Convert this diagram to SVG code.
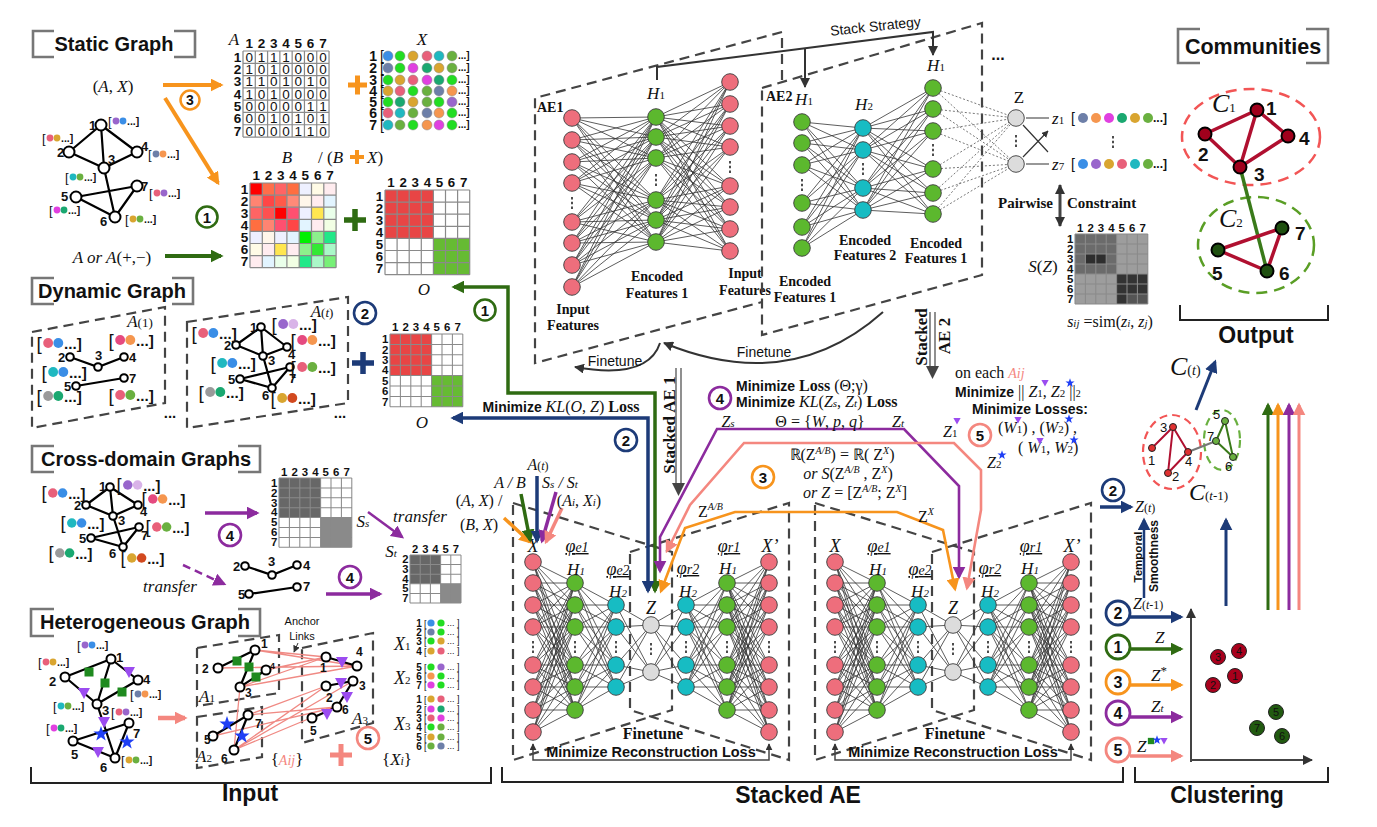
<svg xmlns="http://www.w3.org/2000/svg" width="1377" height="827" viewBox="0 0 1377 827">
<defs>
<style>
text{font-family:"Liberation Sans",Arial,sans-serif;fill:#111}
.s,.s text{font-family:"Liberation Serif","Times New Roman",serif}
.i{font-style:italic}
.b{font-weight:bold}
.hd{font-size:20px;font-weight:bold}
.big{font-size:23px;font-weight:bold}
.bx{fill:none;stroke:#777;stroke-width:2.6}
.brk{fill:none;stroke:#222;stroke-width:2}
.pk{fill:#ee6e7c;stroke:#3a3a3a;stroke-width:.9}
.gn{fill:#5cb82e;stroke:#3a3a3a;stroke-width:.9}
.cy{fill:#17bcc3;stroke:#3a3a3a;stroke-width:.9}
.gy{fill:#dcdcdc;stroke:#3a3a3a;stroke-width:.9}
.ms{fill:none;stroke:#333;stroke-width:.8;vector-effect:non-scaling-stroke}
.dt{fill:none;stroke:#555;stroke-width:.8;stroke-dasharray:2 2}
.dl{fill:none;stroke:#444;stroke-width:2.2;stroke-dasharray:10 6}
.gv{fill:#fff;stroke:#000;stroke-width:2}
.ed{fill:none;stroke:#000;stroke-width:2.2}
.grid{fill:none;stroke:#8a8a8a;stroke-width:1}
.mh{font-size:11px;font-weight:bold}
.mv{font-size:11px}
.lk{fill:none;stroke:#f08a84;stroke-width:1.3}
.vd{stroke:#222;stroke-width:1.6}
</style>
<marker id="mK" viewBox="0 0 10 10" refX="9" refY="5" markerWidth="10" markerHeight="10" markerUnits="userSpaceOnUse" orient="auto-start-reverse"><path d="M0 0L10 5L0 10z" fill="#333"/></marker>
<marker id="mKs" viewBox="0 0 10 10" refX="9" refY="5" markerWidth="7" markerHeight="7" markerUnits="userSpaceOnUse" orient="auto-start-reverse"><path d="M0 0L10 5L0 10z" fill="#333"/></marker>
<marker id="mN" viewBox="0 0 10 10" refX="8" refY="5" markerWidth="13" markerHeight="13" markerUnits="userSpaceOnUse" orient="auto-start-reverse"><path d="M0 0L10 5L0 10z" fill="#1d3b78"/></marker>
<marker id="mG" viewBox="0 0 10 10" refX="8" refY="5" markerWidth="13" markerHeight="13" markerUnits="userSpaceOnUse" orient="auto-start-reverse"><path d="M0 0L10 5L0 10z" fill="#2f6b12"/></marker>
<marker id="mO" viewBox="0 0 10 10" refX="8" refY="5" markerWidth="13" markerHeight="13" markerUnits="userSpaceOnUse" orient="auto-start-reverse"><path d="M0 0L10 5L0 10z" fill="#f7941d"/></marker>
<marker id="mP" viewBox="0 0 10 10" refX="8" refY="5" markerWidth="13" markerHeight="13" markerUnits="userSpaceOnUse" orient="auto-start-reverse"><path d="M0 0L10 5L0 10z" fill="#8c2b9e"/></marker>
<marker id="mR" viewBox="0 0 10 10" refX="8" refY="5" markerWidth="13" markerHeight="13" markerUnits="userSpaceOnUse" orient="auto-start-reverse"><path d="M0 0L10 5L0 10z" fill="#f4877f"/></marker>
<path id="g7" d="M0 0H70M0 10H70M0 20H70M0 30H70M0 40H70M0 50H70M0 60H70M0 70H70M0 0V70M10 0V70M20 0V70M30 0V70M40 0V70M50 0V70M60 0V70M70 0V70"/>
<path id="g5" d="M0 0H50M0 10H50M0 20H50M0 30H50M0 40H50M0 50H50M0 0V50M10 0V50M20 0V50M30 0V50M40 0V50M50 0V50"/>
<g id="h7"><text class="mh" x="5 15 25 35 45 55 65" y="-2.5" text-anchor="middle">1234567</text><text class="mh" x="-1.5 -1.5 -1.5 -1.5 -1.5 -1.5 -1.5" y="8.8 18.8 28.8 38.8 48.8 58.8 68.8" text-anchor="end">1234567</text></g>
<g id="fb"><text x="-1" y="4.5" font-size="13">[</text><text x="18" y="4" font-size="10.5" font-weight="bold">...]</text></g>
<circle id="np" r="8.3" class="pk"/>
<circle id="ng" r="8.3" class="gn"/>
<circle id="nc" r="8.3" class="cy"/>
<circle id="nz" r="8.3" class="gy"/>
<path id="vdot" class="vd" d="M0-6v2.5M0-1.2v2.5M0 3.6v2.5"/>
<path id="tri" d="M-6-5H6L0 6Z" fill="#9b4cf0"/>
<path id="star" d="M0-8L1.88-2.59L7.61-2.47L3.04 0.99L4.7 6.47L0 3.2L-4.7 6.47L-3.04 0.99L-7.61-2.47L-1.88-2.59Z" fill="#1f3ff5"/>
<rect id="sq" x="-4.5" y="-4.5" width="9" height="9" fill="#1f8a1f"/>
<path id="enc" class="ms" d="M533 562 575 583M533 562 575 605M533 562 575 627M533 562 575 665M533 562 575 687M533 562 575 710M533 583 575 583M533 583 575 605M533 583 575 627M533 583 575 665M533 583 575 687M533 583 575 710M533 605 575 583M533 605 575 605M533 605 575 627M533 605 575 665M533 605 575 687M533 605 575 710M533 627 575 583M533 627 575 605M533 627 575 627M533 627 575 665M533 627 575 687M533 627 575 710M533 665 575 583M533 665 575 605M533 665 575 627M533 665 575 665M533 665 575 687M533 665 575 710M533 687 575 583M533 687 575 605M533 687 575 627M533 687 575 665M533 687 575 687M533 687 575 710M533 710 575 583M533 710 575 605M533 710 575 627M533 710 575 665M533 710 575 687M533 710 575 710M533 732 575 583M533 732 575 605M533 732 575 627M533 732 575 665M533 732 575 687M533 732 575 710M575 583 616 605M575 583 616 627M575 583 616 665M575 583 616 687M575 605 616 605M575 605 616 627M575 605 616 665M575 605 616 687M575 627 616 605M575 627 616 627M575 627 616 665M575 627 616 687M575 665 616 605M575 665 616 627M575 665 616 665M575 665 616 687M575 687 616 605M575 687 616 627M575 687 616 665M575 687 616 687M575 710 616 605M575 710 616 627M575 710 616 665M575 710 616 687M616 605 651 625M616 605 651 672M616 627 651 625M616 627 651 672M616 665 651 625M616 665 651 672M616 687 651 625M616 687 651 672"/>
<g id="encN">
<use href="#np" x="533" y="562"/><use href="#np" x="533" y="583"/><use href="#np" x="533" y="605"/><use href="#np" x="533" y="627"/><use href="#np" x="533" y="665"/><use href="#np" x="533" y="687"/><use href="#np" x="533" y="710"/><use href="#np" x="533" y="732"/>
<use href="#ng" x="575" y="583"/><use href="#ng" x="575" y="605"/><use href="#ng" x="575" y="627"/><use href="#ng" x="575" y="665"/><use href="#ng" x="575" y="687"/><use href="#ng" x="575" y="710"/>
<use href="#nc" x="616" y="605"/><use href="#nc" x="616" y="627"/><use href="#nc" x="616" y="665"/><use href="#nc" x="616" y="687"/>
<use href="#vdot" x="533" y="647"/><use href="#vdot" x="575" y="647"/><use href="#vdot" x="616" y="647"/>
</g>
<g id="sae">
<path class="dl" d="M513 503L672 552V710L513 760Z"/>
<path class="dl" d="M630 552L789 503V760L630 710Z"/>
<use href="#enc"/>
<use href="#enc" transform="matrix(-1 0 0 1 1302 0)"/>
<use href="#encN"/>
<use href="#encN" transform="matrix(-1 0 0 1 1302 0)"/>
<use href="#nz" x="651" y="625"/><use href="#nz" x="651" y="672"/><use href="#vdot" x="651" y="649"/>
<text class="s i" x="533" y="552" text-anchor="middle" font-size="18">X</text>
<text class="s i" x="577" y="552" text-anchor="middle" font-size="18" text-decoration="underline">φ<tspan font-size="14">e1</tspan></text>
<text class="s i" x="576" y="575" text-anchor="middle" font-size="17">H<tspan font-size="11">1</tspan></text>
<text class="s i" x="618" y="575" text-anchor="middle" font-size="18" text-decoration="underline">φ<tspan font-size="14">e2</tspan></text>
<text class="s i" x="618" y="597" text-anchor="middle" font-size="17">H<tspan font-size="11">2</tspan></text>
<text class="s i" x="651" y="614" text-anchor="middle" font-size="18">Z</text>
<text class="s i" x="688" y="574" text-anchor="middle" font-size="18" text-decoration="underline">φ<tspan font-size="14">r2</tspan></text>
<text class="s i" x="688" y="597" text-anchor="middle" font-size="17">H<tspan font-size="11">2</tspan></text>
<text class="s i" x="729" y="552" text-anchor="middle" font-size="18" text-decoration="underline">φ<tspan font-size="14">r1</tspan></text>
<text class="s i" x="728" y="574" text-anchor="middle" font-size="17">H<tspan font-size="11">1</tspan></text>
<text class="s i" x="770" y="552" text-anchor="middle" font-size="18">X’</text>
<text class="s b" x="653" y="739" text-anchor="middle" font-size="16">Finetune</text>
<path d="M533 744V760H769V744" fill="none" stroke="#444" stroke-width="1.5" marker-start="url(#mKs)" marker-end="url(#mKs)"/>
<text class="b" x="651" y="757" text-anchor="middle" font-size="14.5">Minimize Reconstruction Loss</text>
</g>
</defs>
<rect width="1377" height="827" fill="#fff"/>

<!-- ===== Section headings ===== -->
<g id="head-static"><path class="bx" d="M54 31H33V57H54M174 31H195V57H174"/><text class="hd" x="114" y="51" text-anchor="middle">Static Graph</text></g>
<g id="head-dynamic"><path class="bx" d="M54 278H32V304H54M172 278H193V304H172"/><text class="hd" x="112" y="298" text-anchor="middle">Dynamic Graph</text></g>
<g id="head-cross"><path class="bx" d="M54 446H32V472H54M238 446H260V472H238"/><text class="hd" x="146" y="466" text-anchor="middle">Cross-domain Graphs</text></g>
<g id="head-hetero"><path class="bx" d="M54 609H31V636H54M238 609H260V636H238"/><text class="hd" x="145" y="629" text-anchor="middle">Heterogeneous Graph</text></g>
<g id="head-comm"><path class="bx" d="M1200 29H1178V63H1200M1306 29H1328V63H1306"/><text x="1253" y="54" text-anchor="middle" font-size="21.5" font-weight="bold">Communities</text></g>

<!-- ===== Static graph ===== -->
<g id="static-graph">
<text class="s" x="113" y="92" text-anchor="middle" font-size="17">(<tspan class="i">A</tspan>, <tspan class="i">X</tspan>)</text>
<path class="ed" d="M101 125L69 152M101 125L104 168M101 125L137 152M69 152L104 168M104 168L137 152M104 168L115 217M76 197L115 217M76 197L137 186M115 217L137 186"/>
<g class="gv"><circle cx="101" cy="125" r="5.5"/><circle cx="69" cy="152" r="5.5"/><circle cx="104" cy="168" r="5.5"/><circle cx="137" cy="152" r="5.5"/><circle cx="76" cy="197" r="5.5"/><circle cx="115" cy="217" r="5.5"/><circle cx="137" cy="186" r="5.5"/></g>
<g font-size="13" font-weight="bold"><text x="89" y="130">1</text><text x="57" y="157">2</text><text x="108" y="164">3</text><text x="141" y="151">4</text><text x="61" y="201">5</text><text x="100" y="226">6</text><text x="141" y="191">7</text></g>
<g transform="translate(109 121)"><use href="#fb"/><circle cx="7" r="3.4" fill="#9966cc"/><circle cx="14" r="3.4" fill="#3a8ee6"/></g>
<g transform="translate(43 138)"><use href="#fb"/><circle cx="7" r="3.4" fill="#e8607a"/><circle cx="14" r="3.4" fill="#d9a530"/></g>
<g transform="translate(149 154)"><use href="#fb"/><circle cx="7" r="3.4" fill="#6d7fa8"/><circle cx="14" r="3.4" fill="#f5964f"/></g>
<g transform="translate(66 177)"><use href="#fb"/><circle cx="7" r="3.4" fill="#1fb8c0"/><circle cx="14" r="3.4" fill="#6ab040"/></g>
<g transform="translate(150 193)"><use href="#fb"/><circle cx="7" r="3.4" fill="#e8607a"/><circle cx="14" r="3.4" fill="#9966cc"/></g>
<g transform="translate(50 210)"><use href="#fb"/><circle cx="7" r="3.4" fill="#e040e0"/><circle cx="14" r="3.4" fill="#1aa870"/></g>
<g transform="translate(126 219)"><use href="#fb"/><circle cx="7" r="3.4" fill="#d9a530"/><circle cx="14" r="3.4" fill="#6ab040"/></g>
<text class="s" x="112" y="263" text-anchor="middle" font-size="17"><tspan class="i">A or A</tspan>(+,−)</text>
<path d="M163 85H221" stroke="#f7941d" stroke-width="4" marker-end="url(#mO)"/>
<path d="M165 98L218 183" stroke="#f7941d" stroke-width="4" marker-end="url(#mO)"/>
<circle cx="190" cy="100" r="9.5" fill="#fff" stroke="#f7941d" stroke-width="2.5"/><text x="190" y="105" text-anchor="middle" font-size="14" font-weight="bold" fill="#f7941d">3</text>
<path d="M165 256H221" stroke="#2f6b12" stroke-width="4" marker-end="url(#mG)"/>
<circle cx="207" cy="217" r="10.5" fill="#fff" stroke="#2f6b12" stroke-width="2.6"/><text x="207" y="222.5" text-anchor="middle" font-size="15" font-weight="bold" fill="#2f6b12">1</text>
</g>

<!-- matrix A -->
<g id="matrix-A">
<text class="s i" x="234" y="45" text-anchor="middle" font-size="17">A</text>
<g transform="translate(243 51) scale(1.229)">
<use href="#h7"/>
<use href="#g7" class="grid" stroke-width="1.2"/>
<g class="mv" text-anchor="middle">
<text x="5 15 25 35 45 55 65" y="8.8">0111000</text>
<text x="5 15 25 35 45 55 65" y="18.8">1010000</text>
<text x="5 15 25 35 45 55 65" y="28.8">1101010</text>
<text x="5 15 25 35 45 55 65" y="38.8">1010000</text>
<text x="5 15 25 35 45 55 65" y="48.8">0000011</text>
<text x="5 15 25 35 45 55 65" y="58.8">0010101</text>
<text x="5 15 25 35 45 55 65" y="68.8">0000110</text>
</g>
</g>
<path d="M348 85H367M357.5 75.5V94.5" stroke="#f7941d" stroke-width="5"/>
</g>

<!-- matrix X -->
<g id="matrix-X">
<text class="s i" x="422" y="45" text-anchor="middle" font-size="17">X</text>
<text font-size="14" font-weight="bold" text-anchor="end" x="377 377 377 377 377 377 377" y="61 73 85 96 107 118 130">1234567</text>
<text font-size="14" x="380 380 380 380 380 380 380" y="61 73 85 96 107 118 130">[[[[[[[</text>
<text font-size="10" font-weight="bold" x="458" y="59">...]<tspan x="458" y="71">...]</tspan><tspan x="458" y="83">...]</tspan><tspan x="458" y="94">...]</tspan><tspan x="458" y="105">...]</tspan><tspan x="458" y="116">...]</tspan><tspan x="458" y="128">...]</tspan></text>
<g stroke="#888" stroke-width=".5">
<circle cx="388" cy="56" r="5" fill="#3a8ee6"/><circle cx="400" cy="56" r="5" fill="#22dd22"/><circle cx="413" cy="56" r="5" fill="#d9a530"/><circle cx="427" cy="56" r="5" fill="#e8607a"/><circle cx="439" cy="56" r="5" fill="#1fb8c0"/><circle cx="452" cy="56" r="5" fill="#6ab040"/>
<circle cx="388" cy="68" r="5" fill="#6d7fa8"/><circle cx="400" cy="68" r="5" fill="#22dd22"/><circle cx="413" cy="68" r="5" fill="#e040e0"/><circle cx="427" cy="68" r="5" fill="#1aa870"/><circle cx="439" cy="68" r="5" fill="#d9a530"/><circle cx="452" cy="68" r="5" fill="#6ab040"/>
<circle cx="388" cy="80" r="5" fill="#22dd22"/><circle cx="400" cy="80" r="5" fill="#d9a530"/><circle cx="413" cy="80" r="5" fill="#e8607a"/><circle cx="427" cy="80" r="5" fill="#e040e0"/><circle cx="439" cy="80" r="5" fill="#1aa870"/><circle cx="452" cy="80" r="5" fill="#22dd22"/>
<circle cx="388" cy="91" r="5" fill="#d9a530"/><circle cx="400" cy="91" r="5" fill="#e8607a"/><circle cx="413" cy="91" r="5" fill="#22dd22"/><circle cx="427" cy="91" r="5" fill="#6ab040"/><circle cx="439" cy="91" r="5" fill="#6d7fa8"/><circle cx="452" cy="91" r="5" fill="#f5964f"/>
<circle cx="388" cy="102" r="5" fill="#22dd22"/><circle cx="400" cy="102" r="5" fill="#1aa870"/><circle cx="413" cy="102" r="5" fill="#d9a530"/><circle cx="427" cy="102" r="5" fill="#6ab040"/><circle cx="439" cy="102" r="5" fill="#22dd22"/><circle cx="452" cy="102" r="5" fill="#9966cc"/>
<circle cx="388" cy="113" r="5" fill="#e8607a"/><circle cx="400" cy="113" r="5" fill="#1fb8c0"/><circle cx="413" cy="113" r="5" fill="#6ab040"/><circle cx="427" cy="113" r="5" fill="#6d7fa8"/><circle cx="439" cy="113" r="5" fill="#f5964f"/><circle cx="452" cy="113" r="5" fill="#22dd22"/>
<circle cx="388" cy="125" r="5" fill="#1fb8c0"/><circle cx="400" cy="125" r="5" fill="#6ab040"/><circle cx="413" cy="125" r="5" fill="#22dd22"/><circle cx="427" cy="125" r="5" fill="#f5964f"/><circle cx="439" cy="125" r="5" fill="#e040e0"/><circle cx="452" cy="125" r="5" fill="#22dd22"/>
</g>
</g>

<!-- matrix B -->
<g id="matrix-B">
<text class="s i" x="287" y="163" text-anchor="middle" font-size="17">B</text>
<text class="s" x="318" y="163" font-size="17">/ (<tspan class="i">B</tspan></text>
<path d="M350 157H364M357 150V164" stroke="#f7941d" stroke-width="4"/>
<text class="s i" x="367" y="163" font-size="17">X<tspan font-style="normal">)</tspan></text>
<g transform="translate(250 183) scale(1.23 1.21)">
<use href="#h7"/>
<rect x="0" y="0" width="10" height="10" fill="#ff0000"/><rect x="10" y="0" width="10" height="10" fill="#ff6e4a"/><rect x="20" y="0" width="10" height="10" fill="#ff6464"/><rect x="30" y="0" width="10" height="10" fill="#ff6e40"/><rect x="40" y="0" width="10" height="10" fill="#eef0ff"/><rect x="50" y="0" width="10" height="10" fill="#fffbe6"/><rect x="60" y="0" width="10" height="10" fill="#ffecef"/>
<rect x="0" y="10" width="10" height="10" fill="#ff8472"/><rect x="10" y="10" width="10" height="10" fill="#ff4646"/><rect x="20" y="10" width="10" height="10" fill="#ff5a4a"/><rect x="30" y="10" width="10" height="10" fill="#ff8a78"/><rect x="40" y="10" width="10" height="10" fill="#fff6ea"/><rect x="50" y="10" width="10" height="10" fill="#ffecef"/><rect x="60" y="10" width="10" height="10" fill="#e2f4ff"/>
<rect x="0" y="20" width="10" height="10" fill="#ff6464"/><rect x="10" y="20" width="10" height="10" fill="#ff5050"/><rect x="20" y="20" width="10" height="10" fill="#ff0000"/><rect x="30" y="20" width="10" height="10" fill="#ff5070"/><rect x="40" y="20" width="10" height="10" fill="#eef0ff"/><rect x="50" y="20" width="10" height="10" fill="#ffe650"/><rect x="60" y="20" width="10" height="10" fill="#eaffea"/>
<rect x="0" y="30" width="10" height="10" fill="#ff6e40"/><rect x="10" y="30" width="10" height="10" fill="#ff8472"/><rect x="20" y="30" width="10" height="10" fill="#ff5070"/><rect x="30" y="30" width="10" height="10" fill="#ff4646"/><rect x="40" y="30" width="10" height="10" fill="#e2f4ff"/><rect x="50" y="30" width="10" height="10" fill="#ffecef"/><rect x="60" y="30" width="10" height="10" fill="#f2ffe4"/>
<rect x="0" y="40" width="10" height="10" fill="#eef0ff"/><rect x="10" y="40" width="10" height="10" fill="#fff6ea"/><rect x="20" y="40" width="10" height="10" fill="#eef0ff"/><rect x="30" y="40" width="10" height="10" fill="#e2f4ff"/><rect x="40" y="40" width="10" height="10" fill="#00f000"/><rect x="50" y="40" width="10" height="10" fill="#8cf08c"/><rect x="60" y="40" width="10" height="10" fill="#22e888"/>
<rect x="0" y="50" width="10" height="10" fill="#fffbe6"/><rect x="10" y="50" width="10" height="10" fill="#ffecef"/><rect x="20" y="50" width="10" height="10" fill="#ffe650"/><rect x="30" y="50" width="10" height="10" fill="#ffecef"/><rect x="40" y="50" width="10" height="10" fill="#8cf08c"/><rect x="50" y="50" width="10" height="10" fill="#33e833"/><rect x="60" y="50" width="10" height="10" fill="#aaf8c8"/>
<rect x="0" y="60" width="10" height="10" fill="#ffecef"/><rect x="10" y="60" width="10" height="10" fill="#e2f4ff"/><rect x="20" y="60" width="10" height="10" fill="#eaffea"/><rect x="30" y="60" width="10" height="10" fill="#f2ffe4"/><rect x="40" y="60" width="10" height="10" fill="#22e888"/><rect x="50" y="60" width="10" height="10" fill="#aaf8c8"/><rect x="60" y="60" width="10" height="10" fill="#77f077"/>
<use href="#g7" class="grid" stroke="#aaa"/>
</g>
<path d="M344 220H366M355 209V231" stroke="#2f6b12" stroke-width="5.5"/>
</g>

<!-- matrix O (static) -->
<g id="matrix-O1">
<g transform="translate(385 190) scale(1.21)">
<use href="#h7"/>
<rect width="40" height="40" fill="#e84545"/><rect x="40" y="40" width="30" height="30" fill="#66bb33"/>
<use href="#g7" class="grid"/>
</g>
<text class="s i" x="424" y="295" text-anchor="middle" font-size="17">O</text>
</g>

<!-- ===== Dynamic graph ===== -->
<g id="dyn-panel1">
<path class="dl" d="M32 332L165 307V403L32 428Z"/>
<text class="s" x="140" y="327" text-anchor="middle" font-size="17"><tspan class="i">A</tspan><tspan font-size="13">(1)</tspan></text>
<path class="ed" d="M70 357L98 367L124 357M76 386L124 378"/>
<g class="gv" stroke-width="1.8"><circle cx="70" cy="357" r="3.8"/><circle cx="98" cy="367" r="3.8"/><circle cx="124" cy="357" r="3.8"/><circle cx="76" cy="386" r="3.8"/><circle cx="124" cy="378" r="3.8"/></g>
<g font-size="13" font-weight="bold"><text x="58" y="362">2</text><text x="95" y="360">3</text><text x="129" y="362">4</text><text x="64" y="391">5</text><text x="129" y="383">7</text></g>
<g transform="translate(38 343) scale(1.45)"><use href="#fb"/><circle cx="7" r="3.4" fill="#e8607a"/><circle cx="14" r="3.4" fill="#3a8ee6"/></g>
<g transform="translate(110 340) scale(1.45)"><use href="#fb"/><circle cx="7" r="3.4" fill="#e54a80"/><circle cx="14" r="3.4" fill="#f5964f"/></g>
<g transform="translate(43 372) scale(1.45)"><use href="#fb"/><circle cx="7" r="3.4" fill="#1fb8c0"/><circle cx="14" r="3.4" fill="#3a8ee6"/></g>
<g transform="translate(38 396) scale(1.45)"><use href="#fb"/><circle cx="7" r="3.4" fill="#9a9a9a"/><circle cx="14" r="3.4" fill="#1aa870"/></g>
<g transform="translate(110 395) scale(1.45)"><use href="#fb"/><circle cx="7" r="3.4" fill="#e8607a"/><circle cx="14" r="3.4" fill="#6ab040"/></g>
<text x="170" y="418" text-anchor="middle" font-size="15" font-weight="bold">...</text>
</g>
<g id="dyn-panel2">
<path class="dl" d="M187 322L348 297V403L187 428Z"/>
<text class="s" x="322" y="317" text-anchor="middle" font-size="17"><tspan class="i">A</tspan><tspan font-size="13">(<tspan class="i">t</tspan>)</tspan></text>
<path class="ed" d="M261 327L236 345M261 327L263 356M261 327L287 347M236 345L263 356M263 356L287 347M263 356L272 388M240 379L272 388M240 379L290 367M272 388L290 367"/>
<g class="gv" stroke-width="1.8"><circle cx="261" cy="327" r="3.8"/><circle cx="236" cy="345" r="3.8"/><circle cx="263" cy="356" r="3.8"/><circle cx="287" cy="347" r="3.8"/><circle cx="240" cy="379" r="3.8"/><circle cx="272" cy="388" r="3.8"/><circle cx="290" cy="367" r="3.8"/></g>
<g font-size="13" font-weight="bold"><text x="250" y="332">1</text><text x="224" y="350">2</text><text x="268" y="365">3</text><text x="288" y="359">4</text><text x="228" y="384">5</text><text x="262" y="400">6</text><text x="289" y="383">7</text></g>
<g transform="translate(193 333) scale(1.45)"><use href="#fb"/><circle cx="7" r="3.4" fill="#e8607a"/><circle cx="14" r="3.4" fill="#3a8ee6"/></g>
<g transform="translate(273 324) scale(1.45)"><use href="#fb"/><circle cx="7" r="3.4" fill="#9966cc"/><circle cx="14" r="3.4" fill="#d9b3e8"/></g>
<g transform="translate(292 340) scale(1.45)"><use href="#fb"/><circle cx="7" r="3.4" fill="#e54a80"/><circle cx="14" r="3.4" fill="#f5964f"/></g>
<g transform="translate(212 363) scale(1.45)"><use href="#fb"/><circle cx="7" r="3.4" fill="#1fb8c0"/><circle cx="14" r="3.4" fill="#3a8ee6"/></g>
<g transform="translate(292 367) scale(1.45)"><use href="#fb"/><circle cx="7" r="3.4" fill="#e8607a"/><circle cx="14" r="3.4" fill="#6ab040"/></g>
<g transform="translate(200 392) scale(1.45)"><use href="#fb"/><circle cx="7" r="3.4" fill="#9a9a9a"/><circle cx="14" r="3.4" fill="#1aa870"/></g>
<g transform="translate(272 398) scale(1.45)"><use href="#fb"/><circle cx="7" r="3.4" fill="#d9a530"/><circle cx="14" r="3.4" fill="#d2491f"/></g>
<text x="340" y="418" text-anchor="middle" font-size="15" font-weight="bold">...</text>
</g>
<g id="dyn-O">
<circle cx="365" cy="313" r="11" fill="#fff" stroke="#1d3b78" stroke-width="2.6"/><text x="365" y="318.5" text-anchor="middle" font-size="15" font-weight="bold" fill="#1d3b78">2</text>
<path d="M352 363H374M363 352V374" stroke="#1d3b78" stroke-width="5.5"/>
<g transform="translate(390 334) scale(1.04)">
<use href="#h7"/>
<rect width="40" height="40" fill="#e84545"/><rect x="40" y="40" width="30" height="30" fill="#66bb33"/>
<use href="#g7" class="grid"/>
</g>
<text class="s i" x="422" y="428" text-anchor="middle" font-size="17">O</text>
</g>

<!-- ===== Cross-domain ===== -->
<g id="cross-graph">
<path class="ed" d="M110 487L86 505M110 487L113 516M110 487L138 505M86 505L113 516M113 516L138 505M113 516L123 547M91 538L123 547M91 538L139 527M123 547L139 527"/>
<g class="gv" stroke-width="1.8"><circle cx="110" cy="487" r="3.8"/><circle cx="86" cy="505" r="3.8"/><circle cx="113" cy="516" r="3.8"/><circle cx="138" cy="505" r="3.8"/><circle cx="91" cy="538" r="3.8"/><circle cx="123" cy="547" r="3.8"/><circle cx="139" cy="527" r="3.8"/></g>
<g font-size="13" font-weight="bold"><text x="99" y="491">1</text><text x="74" y="510">2</text><text x="118" y="525">3</text><text x="140" y="516">4</text><text x="79" y="543">5</text><text x="109" y="558">6</text><text x="141" y="540">7</text></g>
<g transform="translate(43 493) scale(1.4)"><use href="#fb"/><circle cx="7" r="3.4" fill="#e8607a"/><circle cx="14" r="3.4" fill="#3a8ee6"/></g>
<g transform="translate(118 485) scale(1.4)"><use href="#fb"/><circle cx="7" r="3.4" fill="#9966cc"/><circle cx="14" r="3.4" fill="#d9b3e8"/></g>
<g transform="translate(143 499) scale(1.4)"><use href="#fb"/><circle cx="7" r="3.4" fill="#e54a80"/><circle cx="14" r="3.4" fill="#f5964f"/></g>
<g transform="translate(62 523) scale(1.4)"><use href="#fb"/><circle cx="7" r="3.4" fill="#1fb8c0"/><circle cx="14" r="3.4" fill="#3a8ee6"/></g>
<g transform="translate(147 527) scale(1.4)"><use href="#fb"/><circle cx="7" r="3.4" fill="#e8607a"/><circle cx="14" r="3.4" fill="#6ab040"/></g>
<g transform="translate(50 553) scale(1.4)"><use href="#fb"/><circle cx="7" r="3.4" fill="#9a9a9a"/><circle cx="14" r="3.4" fill="#1aa870"/></g>
<g transform="translate(122 558) scale(1.4)"><use href="#fb"/><circle cx="7" r="3.4" fill="#d9a530"/><circle cx="14" r="3.4" fill="#d2491f"/></g>
<path d="M205 513H257" stroke="#8c2b9e" stroke-width="3.5" marker-end="url(#mP)"/>
<circle cx="230" cy="535" r="11" fill="#fff" stroke="#8c2b9e" stroke-width="2.6"/><text x="230" y="540.5" text-anchor="middle" font-size="15" font-weight="bold" fill="#8c2b9e">4</text>
<path d="M183 565L224 584" stroke="#8c2b9e" stroke-width="2.5" stroke-dasharray="8 5" marker-end="url(#mP)"/>
<text class="s i" x="170" y="592" text-anchor="middle" font-size="17">transfer</text>
</g>
<g id="matrix-Ss">
<g transform="translate(279 478) scale(1.04 .99)">
<use href="#h7"/>
<rect width="40" height="40" fill="#676767"/><rect x="40" y="40" width="30" height="30" fill="#8a8a8a"/>
<use href="#g7" class="grid" stroke="#999"/>
</g>
<text class="s i" x="363" y="527" text-anchor="middle" font-size="17">S<tspan font-size="11">s</tspan></text>
<path d="M368 512L402 537" stroke="#8c2b9e" stroke-width="2.5" marker-end="url(#mP)"/>
<text class="s i" x="420" y="522" text-anchor="middle" font-size="17">transfer</text>
</g>
<g id="small-graph">
<path class="ed" d="M245 566L272 575L297 565M249 594L297 587"/>
<g class="gv" stroke-width="1.8"><circle cx="245" cy="566" r="3.8"/><circle cx="272" cy="575" r="3.8"/><circle cx="297" cy="565" r="3.8"/><circle cx="249" cy="594" r="3.8"/><circle cx="297" cy="587" r="3.8"/></g>
<g font-size="13" font-weight="bold"><text x="233" y="571">2</text><text x="268" y="566">3</text><text x="303" y="570">4</text><text x="238" y="599">5</text><text x="303" y="591">7</text></g>
<path d="M326 594H380" stroke="#8c2b9e" stroke-width="3.5" marker-end="url(#mP)"/>
<circle cx="350" cy="577" r="11" fill="#fff" stroke="#8c2b9e" stroke-width="2.6"/><text x="350" y="582.5" text-anchor="middle" font-size="15" font-weight="bold" fill="#8c2b9e">4</text>
</g>
<g id="matrix-St">
<text class="s i" x="391" y="557" text-anchor="middle" font-size="17">S<tspan font-size="11">t</tspan></text>
<g transform="translate(410 555) scale(1.02 .96)">
<rect width="30" height="30" fill="#676767"/><rect x="30" y="30" width="20" height="20" fill="#8a8a8a"/>
<use href="#g5" class="grid" stroke="#999"/>
<text class="mh" x="5 15 25 35 45" y="-2.5" text-anchor="middle">23457</text>
<text class="mh" x="-1.5 -1.5 -1.5 -1.5 -1.5" y="8.8 18.8 28.8 38.8 48.8" text-anchor="end">23457</text>
</g>
</g>

<!-- ===== Heterogeneous ===== -->
<g id="hetero-graph">
<path class="ed" d="M111 659L65 677M111 659L97 704M111 659L138 680M65 677L97 704M97 704L138 680M97 704L115 758M73 741L115 758M73 741L129 723M115 758L129 723"/>
<g class="gv" stroke-width="2"><circle cx="111" cy="659" r="4.5"/><circle cx="65" cy="677" r="4.5"/><circle cx="97" cy="704" r="4.5"/><circle cx="138" cy="680" r="4.5"/><circle cx="73" cy="741" r="4.5"/><circle cx="115" cy="758" r="4.5"/><circle cx="129" cy="723" r="4.5"/></g>
<use href="#sq" x="89" y="672"/><use href="#sq" x="105" y="683"/><use href="#sq" x="122" y="692"/>
<use href="#tri" x="129" y="672"/><use href="#tri" x="84" y="693"/><use href="#tri" x="104" y="722"/><use href="#tri" x="98" y="752"/>
<use href="#star" x="101" y="734"/><use href="#star" x="127" y="742"/>
<g font-size="13" font-weight="bold"><text x="116" y="662">1</text><text x="49" y="686">2</text><text x="102" y="715">3</text><text x="143" y="684">4</text><text x="71" y="759">5</text><text x="100" y="772">6</text><text x="133" y="738">7</text></g>
<g transform="translate(78 645)"><use href="#fb"/><circle cx="7" r="3.4" fill="#9966cc"/><circle cx="14" r="3.4" fill="#3a8ee6"/></g>
<g transform="translate(39 662)"><use href="#fb"/><circle cx="7" r="3.4" fill="#e8607a"/><circle cx="14" r="3.4" fill="#d9a530"/></g>
<g transform="translate(131 694)"><use href="#fb"/><circle cx="7" r="3.4" fill="#6d7fa8"/><circle cx="14" r="3.4" fill="#f5964f"/></g>
<g transform="translate(54 706)"><use href="#fb"/><circle cx="7" r="3.4" fill="#1fb8c0"/><circle cx="14" r="3.4" fill="#6ab040"/></g>
<g transform="translate(112 712)"><use href="#fb"/><circle cx="7" r="3.4" fill="#e8607a"/><circle cx="14" r="3.4" fill="#9966cc"/></g>
<g transform="translate(47 728)"><use href="#fb"/><circle cx="7" r="3.4" fill="#e040e0"/><circle cx="14" r="3.4" fill="#1aa870"/></g>
<g transform="translate(122 760)"><use href="#fb"/><circle cx="7" r="3.4" fill="#d9a530"/><circle cx="14" r="3.4" fill="#6ab040"/></g>
<path d="M158 718H185" stroke="#f4877f" stroke-width="4.5" marker-end="url(#mR)"/>
</g>
<g id="hetero-layers">
<path class="dl" d="M197 648L279 635V693L197 706Z"/>
<path class="dl" d="M197 717L262 707V757L197 768Z"/>
<path class="dl" d="M302 648L373 633V723L302 743Z"/>
<path class="lk" d="M255 650L357 666M218 668L357 666M255 650L326 657M266 670L326 657M240 687L357 666M240 687L326 657M240 687L234 750M248 715L337 707M248 715L326 686M213 736L337 707M234 750L326 686M234 750L353 681M234 750L337 707"/>
<path class="ed" d="M218 668L255 650L240 687L266 670M213 736L248 715L234 750M326 657L357 666M326 686L353 681L337 707L312 718"/>
<g class="gv" stroke-width="2"><circle cx="255" cy="650" r="4.5"/><circle cx="218" cy="668" r="4.5"/><circle cx="266" cy="670" r="4.5"/><circle cx="240" cy="687" r="4.5"/><circle cx="248" cy="715" r="4.5"/><circle cx="213" cy="736" r="4.5"/><circle cx="234" cy="750" r="4.5"/><circle cx="326" cy="657" r="4.5"/><circle cx="357" cy="666" r="4.5"/><circle cx="326" cy="686" r="4.5"/><circle cx="353" cy="681" r="4.5"/><circle cx="337" cy="707" r="4.5"/><circle cx="312" cy="718" r="4.5"/></g>
<use href="#sq" x="237" y="661"/><use href="#sq" x="249" y="667"/><use href="#sq" x="256" y="677"/>
<use href="#star" x="227" y="724"/><use href="#star" x="242" y="736"/>
<use href="#tri" x="342" y="662"/><use href="#tri" x="341" y="683"/><use href="#tri" x="347" y="697"/><use href="#tri" x="327" y="714"/>
<g font-size="12" font-weight="bold"><text x="202" y="673">2</text><text x="261" y="648">1</text><text x="270" y="669" font-size="9">4</text><text x="245" y="697">3</text><text x="255" y="728">7</text><text x="204" y="744">5</text><text x="221" y="763">6</text><text x="320" y="672">1</text><text x="356" y="656">4</text><text x="359" y="690">3</text><text x="326" y="702">2</text><text x="342" y="714">6</text><text x="310" y="735">5</text></g>
<text class="s i" x="199" y="702" font-size="17">A<tspan font-size="11" font-style="normal">1</tspan></text>
<text class="s i" x="196" y="762" font-size="17">A<tspan font-size="11" font-style="normal">2</tspan></text>
<text class="s i" x="352" y="724" font-size="17">A<tspan font-size="11" font-style="normal">3</tspan></text>
<text x="302" y="625" text-anchor="middle" font-size="11">Anchor</text>
<text x="302" y="640" text-anchor="middle" font-size="11">Links</text>
<path d="M298 643L294 652" stroke="#333" stroke-width="1" marker-end="url(#mKs)"/>
<text class="s" x="287" y="765" text-anchor="middle" font-size="17">{<tspan class="i" fill="#f4877f" font-size="14">Aij</tspan>}</text>
<path d="M330 755H352M341 744V766" stroke="#f4877f" stroke-width="5"/>
<circle cx="368" cy="738" r="11" fill="#fff" stroke="#f4877f" stroke-width="2.6"/><text x="368" y="743.5" text-anchor="middle" font-size="15" font-weight="bold" fill="#f4877f">5</text>
<text class="s" x="397" y="765" text-anchor="middle" font-size="17">{<tspan class="i">X<tspan font-size="12">i</tspan></tspan>}</text>
</g>
<g id="hetero-X">
<text class="s i" x="394" y="650" font-size="18">X<tspan font-size="11" font-style="normal">1</tspan></text>
<text class="s i" x="394" y="684" font-size="18">X<tspan font-size="11" font-style="normal">2</tspan></text>
<text class="s i" x="394" y="730" font-size="18">X<tspan font-size="11" font-style="normal">3</tspan></text>
<text font-size="10" font-weight="bold" text-anchor="middle" x="419 419 419 419 419 419 419 419 419 419 419 419 419" y="627 636 645 655 671 680 689 703 713 722 731 741 750">1234567123456</text>
<text font-size="9" fill="#333" x="424 424 424 424 424 424 424 424 424 424 424 424 424" y="627 636 645 655 671 680 689 703 713 722 731 741 750">[[[[[[[[[[[[[</text>
<text font-size="9" fill="#333" x="447" y="626">... ]<tspan x="447" y="635">... ]</tspan><tspan x="447" y="644">... ]</tspan><tspan x="447" y="654">... ]</tspan><tspan x="447" y="670">... ]</tspan><tspan x="447" y="679">... ]</tspan><tspan x="447" y="688">... ]</tspan><tspan x="447" y="702">... ]</tspan><tspan x="447" y="712">... ]</tspan><tspan x="447" y="721">... ]</tspan><tspan x="447" y="730">... ]</tspan><tspan x="447" y="740">... ]</tspan><tspan x="447" y="749">... ]</tspan></text>
<g>
<circle cx="431" cy="623" r="3.6" fill="#3a8ee6"/><circle cx="441" cy="623" r="3.6" fill="#22dd22"/>
<circle cx="431" cy="632" r="3.6" fill="#6d7fa8"/><circle cx="441" cy="632" r="3.6" fill="#22dd22"/>
<circle cx="431" cy="641" r="3.6" fill="#22dd22"/><circle cx="441" cy="641" r="3.6" fill="#d9a530"/>
<circle cx="431" cy="651" r="3.6" fill="#d9a530"/><circle cx="441" cy="651" r="3.6" fill="#e8607a"/>
<circle cx="431" cy="667" r="3.6" fill="#22dd22"/><circle cx="441" cy="667" r="3.6" fill="#9966cc"/>
<circle cx="431" cy="676" r="3.6" fill="#f5964f"/><circle cx="441" cy="676" r="3.6" fill="#22dd22"/>
<circle cx="431" cy="685" r="3.6" fill="#e040e0"/><circle cx="441" cy="685" r="3.6" fill="#22dd22"/>
<circle cx="431" cy="699" r="3.6" fill="#d9a530"/><circle cx="441" cy="699" r="3.6" fill="#e8607a"/>
<circle cx="431" cy="709" r="3.6" fill="#e040e0"/><circle cx="441" cy="709" r="3.6" fill="#1aa870"/>
<circle cx="431" cy="718" r="3.6" fill="#e8607a"/><circle cx="441" cy="718" r="3.6" fill="#e040e0"/>
<circle cx="431" cy="727" r="3.6" fill="#22dd22"/><circle cx="441" cy="727" r="3.6" fill="#6ab040"/>
<circle cx="431" cy="737" r="3.6" fill="#d9a530"/><circle cx="441" cy="737" r="3.6" fill="#6ab040"/>
<circle cx="431" cy="746" r="3.6" fill="#6ab040"/><circle cx="441" cy="746" r="3.6" fill="#6d7fa8"/>
</g>
</g>

<!-- ===== Top stacked autoencoders ===== -->
<g id="top-ae1">
<path class="dl" d="M782 80V32L535 98V363L762 302"/>
<path id="m1" class="ms" d="M572 118 656 117M572 118 656 137M572 118 656 158M572 118 656 200M572 118 656 220M572 118 656 242M572 140 656 117M572 140 656 137M572 140 656 158M572 140 656 200M572 140 656 220M572 140 656 242M572 162 656 117M572 162 656 137M572 162 656 158M572 162 656 200M572 162 656 220M572 162 656 242M572 183 656 117M572 183 656 137M572 183 656 158M572 183 656 200M572 183 656 220M572 183 656 242M572 222 656 117M572 222 656 137M572 222 656 158M572 222 656 200M572 222 656 220M572 222 656 242M572 243 656 117M572 243 656 137M572 243 656 158M572 243 656 200M572 243 656 220M572 243 656 242M572 265 656 117M572 265 656 137M572 265 656 158M572 265 656 200M572 265 656 220M572 265 656 242M572 287 656 117M572 287 656 137M572 287 656 158M572 287 656 200M572 287 656 220M572 287 656 242"/>
<use href="#m1" transform="matrix(-0.881 0.4286 0 1 1233.8 -281.1)"/>
<use href="#np" x="572" y="118"/><use href="#np" x="572" y="140"/><use href="#np" x="572" y="162"/><use href="#np" x="572" y="183"/><use href="#np" x="572" y="222"/><use href="#np" x="572" y="243"/><use href="#np" x="572" y="265"/><use href="#np" x="572" y="287"/><use href="#vdot" x="572" y="203"/>
<use href="#ng" x="656" y="117"/><use href="#ng" x="656" y="137"/><use href="#ng" x="656" y="158"/><use href="#ng" x="656" y="200"/><use href="#ng" x="656" y="220"/><use href="#ng" x="656" y="242"/><use href="#vdot" x="656" y="180"/>
<use href="#np" x="730" y="82"/><use href="#np" x="730" y="104"/><use href="#np" x="730" y="126"/><use href="#np" x="730" y="147"/><use href="#np" x="730" y="186"/><use href="#np" x="730" y="207"/><use href="#np" x="730" y="229"/><use href="#np" x="730" y="251"/><use href="#vdot" x="730" y="167"/>
<text class="s b" x="537" y="112" font-size="14">AE1</text>
<text class="s i" x="656" y="99" text-anchor="middle" font-size="17">H<tspan font-size="11" font-style="normal">1</tspan></text>
<g class="s b" font-size="14" text-anchor="middle">
<text x="573" y="314">Input</text><text x="573" y="330">Features</text>
<text x="657" y="281">Encoded</text><text x="657" y="298">Features 1</text>
<text x="745" y="278">Input</text><text x="745" y="295">Features</text>
</g>
</g>
<g id="top-ae2">
<path class="dl" d="M762 88L982 23V275L762 335Z"/>
<path id="m2" class="ms" d="M802 122 863 128M802 122 863 150M802 122 863 188M802 122 863 210M802 143 863 128M802 143 863 150M802 143 863 188M802 143 863 210M802 165 863 128M802 165 863 150M802 165 863 188M802 165 863 210M802 203 863 128M802 203 863 150M802 203 863 188M802 203 863 210M802 227 863 128M802 227 863 150M802 227 863 188M802 227 863 210M802 248 863 128M802 248 863 150M802 248 863 188M802 248 863 210"/>
<use href="#m2" transform="matrix(-1.1475 0.5574 0 1 1853.3 -481)"/>
<path class="dt" d="M933 88 1016 118M933 109 1016 118M933 131 1016 118M933 169 1016 118M933 193 1016 118M933 214 1016 118M933 88 1016 164M933 109 1016 164M933 131 1016 164M933 169 1016 164M933 193 1016 164M933 214 1016 164"/>
<use href="#ng" x="802" y="122"/><use href="#ng" x="802" y="143"/><use href="#ng" x="802" y="165"/><use href="#ng" x="802" y="203"/><use href="#ng" x="802" y="227"/><use href="#ng" x="802" y="248"/><use href="#vdot" x="802" y="185"/>
<use href="#nc" x="863" y="128"/><use href="#nc" x="863" y="150"/><use href="#nc" x="863" y="188"/><use href="#nc" x="863" y="210"/><use href="#vdot" x="863" y="169"/>
<use href="#ng" x="933" y="88"/><use href="#ng" x="933" y="109"/><use href="#ng" x="933" y="131"/><use href="#ng" x="933" y="169"/><use href="#ng" x="933" y="193"/><use href="#ng" x="933" y="214"/><use href="#vdot" x="933" y="150"/>
<text class="s b" x="766" y="101" font-size="14">AE2</text>
<text class="s i" x="804" y="105" text-anchor="middle" font-size="17">H<tspan font-size="11" font-style="normal">1</tspan></text>
<text class="s i" x="864" y="110" text-anchor="middle" font-size="17">H<tspan font-size="11" font-style="normal">2</tspan></text>
<text class="s i" x="936" y="71" text-anchor="middle" font-size="17">H<tspan font-size="11" font-style="normal">1</tspan></text>
<g class="s b" font-size="14" text-anchor="middle">
<text x="865" y="245">Encoded</text><text x="865" y="260">Features 2</text>
<text x="936" y="248">Encoded</text><text x="936" y="263">Features 1</text>
<text x="805" y="286">Encoded</text><text x="805" y="302">Features 1</text>
</g>
<text x="998" y="60" text-anchor="middle" font-size="16" font-weight="bold">...</text>
</g>
<g id="stack-strategy">
<path d="M657 80V67L933 32V55" fill="none" stroke="#333" stroke-width="2" marker-end="url(#mK)"/>
<path d="M805 48V87" fill="none" stroke="#333" stroke-width="2" marker-end="url(#mK)"/>
<text x="876" y="31" text-anchor="middle" font-size="14" transform="rotate(-6 876 31)">Stack Strategy</text>
</g>
<g id="finetune-top">
<path d="M883 312Q790 395 664 343" fill="none" stroke="#333" stroke-width="2" marker-end="url(#mK)"/>
<path d="M660 343Q648 380 575 367" fill="none" stroke="#333" stroke-width="2" marker-end="url(#mK)"/>
<text x="764" y="357" text-anchor="middle" font-size="14">Finetune</text>
<text x="615" y="366" text-anchor="middle" font-size="14">Finetune</text>
</g>
<g id="embedding-Z">
<use href="#nz" x="1016" y="118"/><use href="#nz" x="1016" y="164"/><use href="#vdot" x="1016" y="141"/>
<text class="s" x="1019" y="103" text-anchor="middle" font-size="17">Z</text>
<path d="M1026 118H1049M1026 164H1049M1023 125L1048 152M1023 157L1048 131" fill="none" stroke="#333" stroke-width="1.2" marker-end="url(#mKs)"/>
<text class="s i" x="1052" y="124" font-size="17">z<tspan font-size="11" font-style="normal">1</tspan></text>
<text class="s i" x="1052" y="170" font-size="17">z<tspan font-size="11" font-style="normal">7</tspan></text>
<text x="1071" y="123" font-size="14">[</text><text x="1071" y="169" font-size="14">[</text>
<text x="1153" y="122" font-size="12" font-weight="bold">...]</text><text x="1153" y="168" font-size="12" font-weight="bold">...]</text>
<circle cx="1083" cy="118" r="5" fill="#6d7fa8"/><circle cx="1096" cy="118" r="5" fill="#f5964f"/><circle cx="1109" cy="118" r="5" fill="#e040e0"/><circle cx="1122" cy="118" r="5" fill="#1aa870"/><circle cx="1135" cy="118" r="5" fill="#d9a530"/><circle cx="1148" cy="118" r="5" fill="#6ab040"/>
<circle cx="1083" cy="164" r="5" fill="#3a8ee6"/><circle cx="1096" cy="164" r="5" fill="#9966cc"/><circle cx="1109" cy="164" r="5" fill="#d9a530"/><circle cx="1122" cy="164" r="5" fill="#e8607a"/><circle cx="1135" cy="164" r="5" fill="#1fb8c0"/><circle cx="1148" cy="164" r="5" fill="#6ab040"/>
<use href="#vdot" x="1113" y="142"/>
<path d="M1060 185V226" stroke="#444" stroke-width="3" marker-start="url(#mK)" marker-end="url(#mK)"/>
<text class="s b" x="1053" y="208" text-anchor="end" font-size="15">Pairwise</text>
<text class="s b" x="1067" y="208" font-size="15">Constraint</text>
</g>
<g id="matrix-SZ">
<text class="s i" x="1043" y="272" text-anchor="middle" font-size="17">S<tspan font-style="normal">(</tspan>Z<tspan font-style="normal">)</tspan></text>
<g transform="translate(1075 234) scale(1.04 1)">
<use href="#h7"/>
<rect width="70" height="70" fill="#9d9d9d"/><rect width="40" height="40" fill="#6b6b6b"/><rect x="10" y="20" width="20" height="10" fill="#2e2e2e"/><rect x="40" y="40" width="30" height="30" fill="#333"/><rect x="50" y="60" width="20" height="10" fill="#555"/>
<use href="#g7" class="grid" stroke="#888"/>
</g>
<text class="s" x="1110" y="327" text-anchor="middle" font-size="16"><tspan class="i">s</tspan><tspan class="i" font-size="11">ij</tspan> =sim(<tspan class="i">z</tspan><tspan class="i" font-size="11">i</tspan>, <tspan class="i">z</tspan><tspan class="i" font-size="11">j</tspan>)</text>
</g>

<!-- ===== Communities / output ===== -->
<g id="communities">
<ellipse cx="1251" cy="137" rx="69" ry="48" fill="none" stroke="#f25555" stroke-width="2.5" stroke-dasharray="11 7"/>
<ellipse cx="1256" cy="245" rx="58" ry="48" fill="none" stroke="#5a9e25" stroke-width="2.5" stroke-dasharray="11 7"/>
<path d="M1240 167L1267 271" stroke="#3a7a1a" stroke-width="3.5"/>
<path d="M1257 110L1205 134M1257 110L1240 167M1257 110L1288 136M1205 134L1240 167M1240 167L1288 136M1218 250L1282 228M1218 250L1267 271M1267 271L1282 228" stroke="#b01030" stroke-width="3.5"/>
<g stroke="#000" stroke-width="2"><circle cx="1257" cy="110" r="6.5" fill="#a0001c"/><circle cx="1205" cy="134" r="6.5" fill="#a0001c"/><circle cx="1240" cy="167" r="6.5" fill="#a0001c"/><circle cx="1288" cy="136" r="6.5" fill="#a0001c"/><circle cx="1218" cy="250" r="6.5" fill="#1f5010"/><circle cx="1267" cy="271" r="6.5" fill="#1f5010"/><circle cx="1282" cy="228" r="6.5" fill="#1f5010"/></g>
<g font-size="19" font-weight="bold"><text x="1266" y="115">1</text><text x="1198" y="161">2</text><text x="1254" y="181">3</text><text x="1299" y="145">4</text><text x="1212" y="280">5</text><text x="1279" y="280">6</text><text x="1295" y="240">7</text></g>
<text class="s i" x="1212" y="112" font-size="26" fill="#f25555">C<tspan font-size="13" font-style="normal">1</tspan></text>
<text class="s i" x="1219" y="227" font-size="26" fill="#5a9e25">C<tspan font-size="13" font-style="normal">2</tspan></text>
<path class="brk" d="M1180 305V320H1328V305"/>
<text class="big" x="1256" y="343" text-anchor="middle">Output</text>
</g>

<!-- ===== Stacked AE (bottom) ===== -->
<g id="stacked-ae-left"><use href="#sae"/></g>
<g id="stacked-ae-right"><use href="#sae" x="302"/></g>
<g id="stacked-labels">
<path d="M676 368V484M681 368V484" stroke="#555" stroke-width="1.3"/><path d="M672 483H685L678.5 496Z" fill="#444"/>
<text class="s b" transform="translate(675 425) rotate(-90)" text-anchor="middle" font-size="17">Stacked AE 1</text>
<path d="M930 312V367M935 312V367" stroke="#555" stroke-width="1.3"/><path d="M926 366H939L932.5 379Z" fill="#444"/>
<text class="s b" transform="translate(927 337) rotate(-90)" text-anchor="middle" font-size="17">Stacked</text>
<text class="s b" transform="translate(950 336) rotate(-90)" text-anchor="middle" font-size="17">AE 2</text>
</g>
<g id="connectors">
<path d="M655 591V393H508V287H454" fill="none" stroke="#2f6b12" stroke-width="3.5" marker-start="url(#mG)" marker-end="url(#mG)"/>
<path d="M648 591V418H453" fill="none" stroke="#1d3b78" stroke-width="3.5" marker-start="url(#mN)" marker-end="url(#mN)"/>
<path d="M660 571V537L717 429H904L959 486V577" fill="none" stroke="#8c2b9e" stroke-width="2.6" marker-start="url(#mP)" marker-end="url(#mP)"/>
<path d="M667 551L690 505L744 443H954L981 470V510L967 588" fill="none" stroke="#f4877f" stroke-width="2.6" marker-start="url(#mR)" marker-end="url(#mR)"/>
<path d="M661 591L685 528L735 512H897L943 530L955 589" fill="none" stroke="#f7941d" stroke-width="2.6" marker-start="url(#mO)" marker-end="url(#mO)"/>
<path d="M504 518L530 542" stroke="#f7941d" stroke-width="3.5" marker-end="url(#mO)"/>
<path d="M521 494L530 540" stroke="#2f6b12" stroke-width="3.5" marker-end="url(#mG)"/>
<path d="M537 476V541" stroke="#1d3b78" stroke-width="3.5" marker-end="url(#mN)"/>
<path d="M556 492L542 541" stroke="#8c2b9e" stroke-width="3.5" marker-end="url(#mP)"/>
<path d="M562 508L546 542" stroke="#f4877f" stroke-width="3.5" marker-end="url(#mR)"/>
</g>
<g id="flow-labels">
<circle cx="485" cy="310" r="10.5" fill="#fff" stroke="#2f6b12" stroke-width="2.6"/><text x="485" y="315.5" text-anchor="middle" font-size="15" font-weight="bold" fill="#2f6b12">1</text>
<circle cx="626" cy="440" r="11" fill="#fff" stroke="#1d3b78" stroke-width="2.6"/><text x="626" y="445.5" text-anchor="middle" font-size="15" font-weight="bold" fill="#1d3b78">2</text>
<text x="561" y="412" text-anchor="middle" font-size="14"><tspan font-weight="bold">Minimize </tspan><tspan class="s i" font-size="16">KL</tspan><tspan class="s" font-size="16">(<tspan class="i">O</tspan>, <tspan class="i">Z</tspan>) </tspan><tspan class="s b" font-size="16">Loss</tspan></text>
<text class="s" x="538" y="470" text-anchor="middle" font-size="16" fill="#1d3b78"><tspan class="i">A</tspan><tspan font-size="12">(<tspan class="i">t</tspan>)</tspan></text>
<text class="s i" x="510" y="488" text-anchor="middle" font-size="16" fill="#2f6b12">A / B</text>
<text class="s i" x="560" y="488" text-anchor="middle" font-size="16" fill="#8c2b9e">S<tspan font-size="11">s</tspan> / S<tspan font-size="11">t</tspan></text>
<text class="s" x="479" y="506" text-anchor="middle" font-size="16" fill="#f7941d">(<tspan class="i">A</tspan>, <tspan class="i">X</tspan>) /</text>
<text class="s" x="479" y="530" text-anchor="middle" font-size="16" fill="#f7941d">(<tspan class="i">B</tspan>, <tspan class="i">X</tspan>)</text>
<text class="s" x="579" y="506" text-anchor="middle" font-size="16" fill="#f4877f">(<tspan class="i">A<tspan font-size="11">i</tspan></tspan>, <tspan class="i">X<tspan font-size="11">i</tspan></tspan>)</text>
<circle cx="720" cy="398" r="11" fill="#fff" stroke="#8c2b9e" stroke-width="2.6"/><text x="720" y="403.5" text-anchor="middle" font-size="15" font-weight="bold" fill="#8c2b9e">4</text>
<text x="736" y="391" font-size="14"><tspan font-weight="bold">Minimize </tspan><tspan class="s b" font-size="16">Loss </tspan><tspan class="s" font-size="16">(Θ;γ)</tspan></text>
<text x="736" y="407" font-size="14"><tspan font-weight="bold">Minimize </tspan><tspan class="s i" font-size="16">KL</tspan><tspan class="s" font-size="16">(<tspan class="i">Z<tspan font-size="11">s</tspan></tspan>, <tspan class="i">Z<tspan font-size="11">t</tspan></tspan>) </tspan><tspan class="s b" font-size="16">Loss</tspan></text>
<text class="s" x="820" y="427" text-anchor="middle" font-size="16">Θ = {<tspan class="i">W</tspan>, <tspan class="i">p</tspan>, <tspan class="i">q</tspan>}</text>
<text class="s i" x="728" y="427" text-anchor="middle" font-size="16" fill="#8c2b9e">Z<tspan font-size="11">s</tspan></text>
<text class="s i" x="898" y="427" text-anchor="middle" font-size="16" fill="#8c2b9e">Z<tspan font-size="11">t</tspan></text>
<circle cx="763" cy="477" r="11" fill="#fff" stroke="#f7941d" stroke-width="2.6"/><text x="763" y="482.5" text-anchor="middle" font-size="15" font-weight="bold" fill="#f7941d">3</text>
<text class="s" x="842" y="460" text-anchor="middle" font-size="16">ℝ(Z<tspan font-size="10" dy="-6" class="i">A/B</tspan><tspan dy="6">) = ℝ( Z</tspan><tspan font-size="10" dy="-6" class="i">X</tspan><tspan dy="6">)</tspan></text>
<text class="s" x="848" y="479" text-anchor="middle" font-size="16"><tspan class="i">or</tspan>   <tspan class="i">S</tspan>(Z<tspan font-size="10" dy="-6" class="i">A/B</tspan><tspan dy="6"> , Z</tspan><tspan font-size="10" dy="-6" class="i">X</tspan><tspan dy="6">)</tspan></text>
<text class="s" x="855" y="498" text-anchor="middle" font-size="16"><tspan class="i">or</tspan>  <tspan class="i">Z</tspan> = [Z<tspan font-size="10" dy="-6" class="i">A/B</tspan><tspan dy="6">; Z</tspan><tspan font-size="10" dy="-6" class="i">X</tspan><tspan dy="6">]</tspan></text>
<text class="s" x="698" y="517" font-size="16" fill="#f7941d">Z<tspan font-size="10" dy="-7" class="i">A/B</tspan></text>
<text class="s" x="918" y="522" font-size="16" fill="#f7941d">Z<tspan font-size="10" dy="-7" class="i">X</tspan></text>
<text class="s" x="955" y="378" font-size="16">on each <tspan class="i" font-size="14" fill="#f4877f">Aij</tspan></text>
<text x="955" y="397" font-size="14"><tspan font-weight="bold">Minimize </tspan><tspan class="s" font-size="16">|| <tspan class="i">Z</tspan><tspan font-size="11">1</tspan>, <tspan class="i">Z</tspan><tspan font-size="11">2</tspan> ||<tspan font-size="10">2</tspan></tspan></text>
<use href="#tri" transform="translate(1045 383) scale(.6)"/><use href="#star" transform="translate(1070 383) scale(.6)"/>
<text x="972" y="414" font-size="14" font-weight="bold">Minimize Losses:</text>
<text class="s i" x="943" y="437" font-size="16" fill="#f4877f">Z<tspan font-size="11" font-style="normal">1</tspan></text>
<use href="#tri" transform="translate(957 421) scale(.6)"/>
<circle cx="980" cy="435" r="11" fill="#fff" stroke="#f4877f" stroke-width="2.6"/><text x="980" y="440.5" text-anchor="middle" font-size="15" font-weight="bold" fill="#f4877f">5</text>
<text class="s" x="998" y="433" font-size="16">(<tspan class="i">W</tspan><tspan font-size="11">1</tspan>) , (<tspan class="i">W</tspan><tspan font-size="11">2</tspan>) ,</text>
<text class="s" x="1018" y="453" font-size="16">( <tspan class="i">W</tspan><tspan font-size="11">1</tspan>, <tspan class="i">W</tspan><tspan font-size="11">2</tspan>)</text>
<use href="#tri" transform="translate(1018 420) scale(.6)"/><use href="#star" transform="translate(1069 419) scale(.6)"/>
<use href="#tri" transform="translate(1040 441) scale(.6)"/><use href="#star" transform="translate(1074 440) scale(.6)"/>
<text class="s i" x="987" y="468" font-size="16" fill="#f4877f">Z<tspan font-size="11" font-style="normal">2</tspan></text>
<use href="#star" transform="translate(1002 455) scale(.6)"/>
</g>
<g id="brackets-bottom">
<path class="brk" d="M31 767V783H491V767"/>
<text class="big" x="250" y="801" text-anchor="middle">Input</text>
<path class="brk" d="M502 767V782H1123V767"/>
<text class="big" x="798" y="803" text-anchor="middle" font-size="24">Stacked AE</text>
<path class="brk" d="M1135 767V782H1328V767"/>
<text class="big" x="1227" y="803" text-anchor="middle">Clustering</text>
</g>

<!-- ===== Clustering ===== -->
<g id="clustering">
<circle cx="1113" cy="490" r="11" fill="#fff" stroke="#1d3b78" stroke-width="2.6"/><text x="1113" y="495.5" text-anchor="middle" font-size="15" font-weight="bold" fill="#1d3b78">2</text>
<path d="M1100 507H1131" stroke="#1d3b78" stroke-width="3.5" marker-end="url(#mN)"/>
<text class="s" x="1135" y="512" font-size="16"><tspan class="i">Z</tspan><tspan font-size="12">(<tspan class="i">t</tspan>)</tspan></text>
<path d="M1144 598V520" stroke="#1d3b78" stroke-width="2.5" marker-end="url(#mN)"/>
<text transform="translate(1142 557) rotate(-90)" text-anchor="middle" font-size="11.5" font-weight="bold">Temporal</text>
<text transform="translate(1158 556) rotate(-90)" text-anchor="middle" font-size="12" font-weight="bold">Smoothness</text>
<circle cx="1118" cy="613" r="12" fill="#fff" stroke="#1d3b78" stroke-width="2.8"/><text x="1118" y="619" text-anchor="middle" font-size="16" font-weight="bold" fill="#1d3b78">2</text>
<text class="s" x="1133" y="609" font-size="16"><tspan class="i">Z</tspan><tspan font-size="12">(<tspan class="i">t</tspan>-1)</tspan></text>
<path d="M1130 617H1181" stroke="#1d3b78" stroke-width="3.5" marker-end="url(#mN)"/>
<circle cx="1118" cy="647" r="12" fill="#fff" stroke="#2f6b12" stroke-width="2.8"/><text x="1118" y="653" text-anchor="middle" font-size="16" font-weight="bold" fill="#2f6b12">1</text>
<text class="s i" x="1155" y="643" font-size="17">Z</text>
<path d="M1130 649H1181" stroke="#2f6b12" stroke-width="3.5" marker-end="url(#mG)"/>
<circle cx="1118" cy="682" r="12" fill="#fff" stroke="#f7941d" stroke-width="2.8"/><text x="1118" y="688" text-anchor="middle" font-size="16" font-weight="bold" fill="#f7941d">3</text>
<text class="s i" x="1151" y="681" font-size="17">Z<tspan font-style="normal" font-size="13" dy="-6">*</tspan></text>
<path d="M1130 685H1181" stroke="#f7941d" stroke-width="3.5" marker-end="url(#mO)"/>
<circle cx="1118" cy="713" r="12" fill="#fff" stroke="#8c2b9e" stroke-width="2.8"/><text x="1118" y="719" text-anchor="middle" font-size="16" font-weight="bold" fill="#8c2b9e">4</text>
<text class="s i" x="1151" y="712" font-size="17">Z<tspan font-size="11">t</tspan></text>
<path d="M1130 717H1181" stroke="#8c2b9e" stroke-width="3.5" marker-end="url(#mP)"/>
<circle cx="1118" cy="750" r="12" fill="#fff" stroke="#f4877f" stroke-width="2.8"/><text x="1118" y="756" text-anchor="middle" font-size="16" font-weight="bold" fill="#f4877f">5</text>
<text class="s i" x="1137" y="752" font-size="17">Z</text>
<use href="#sq" transform="translate(1151 741) scale(.7)"/><use href="#star" transform="translate(1157 740) scale(.6)"/><use href="#tri" transform="translate(1164 741) scale(.6)"/>
<path d="M1130 756H1181" stroke="#f4877f" stroke-width="3.5" marker-end="url(#mR)"/>
<path d="M1191 762V609" stroke="#444" stroke-width="2" marker-end="url(#mK)"/>
<path d="M1191 760H1312" stroke="#444" stroke-width="2" marker-end="url(#mK)"/>
<g stroke="#222" stroke-width="1"><circle cx="1218" cy="657" r="7.5" fill="#a8001c"/><circle cx="1239" cy="651" r="7.5" fill="#a8001c"/><circle cx="1235" cy="676" r="7.5" fill="#a8001c"/><circle cx="1213" cy="685" r="7.5" fill="#a8001c"/><circle cx="1276" cy="712" r="7.5" fill="#215a10"/><circle cx="1257" cy="728" r="7.5" fill="#215a10"/><circle cx="1282" cy="736" r="7.5" fill="#215a10"/></g>
<g font-size="11" text-anchor="middle" fill="#111"><text x="1218" y="661">3</text><text x="1239" y="655">4</text><text x="1235" y="680">1</text><text x="1213" y="689">2</text><text x="1276" y="716">5</text><text x="1257" y="732">7</text><text x="1282" y="740">6</text></g>
<path d="M1226 606V520" stroke="#1d3b78" stroke-width="3" marker-end="url(#mN)"/>
<path d="M1268 610V405" stroke="#2f6b12" stroke-width="3" marker-end="url(#mG)"/>
<path d="M1278 610V405" stroke="#f7941d" stroke-width="3" marker-end="url(#mO)"/>
<path d="M1289 610V405" stroke="#8c2b9e" stroke-width="3" marker-end="url(#mP)"/>
<path d="M1299 610V405" stroke="#f4877f" stroke-width="3" marker-end="url(#mR)"/>
<ellipse cx="1172" cy="452" rx="29" ry="37" fill="none" stroke="#f25555" stroke-width="2.2" stroke-dasharray="8 5"/>
<ellipse cx="1222" cy="440" rx="18" ry="30" fill="none" stroke="#6ab040" stroke-width="2.2" stroke-dasharray="8 5"/>
<path d="M1188 452L1216 441" stroke="#777" stroke-width="2"/>
<path d="M1173 427L1152 448M1173 427L1168 473M1173 427L1188 452M1168 473L1188 452" stroke="#b01030" stroke-width="2"/>
<path d="M1216 441L1225 421L1233 457L1216 441" fill="none" stroke="#3a7a1a" stroke-width="2"/>
<g stroke="#222" stroke-width="1"><circle cx="1173" cy="427" r="3.5" fill="#e03030"/><circle cx="1152" cy="448" r="3.5" fill="#e03030"/><circle cx="1188" cy="452" r="3.5" fill="#e03030"/><circle cx="1168" cy="473" r="3.5" fill="#e03030"/><circle cx="1225" cy="421" r="3.5" fill="#6ab040"/><circle cx="1216" cy="441" r="3.5" fill="#6ab040"/><circle cx="1233" cy="457" r="3.5" fill="#6ab040"/></g>
<g font-size="13"><text x="1160" y="432">3</text><text x="1148" y="465">1</text><text x="1185" y="466">4</text><text x="1172" y="481">2</text><text x="1213" y="419">5</text><text x="1207" y="441">7</text><text x="1225" y="471">6</text></g>
<text class="s i" x="1189" y="500" font-size="24">C<tspan font-size="13" font-style="normal">(<tspan class="i">t</tspan>-1)</tspan></text>
<path d="M1196 410L1215 362" stroke="#1d3b78" stroke-width="3" marker-end="url(#mN)"/>
<text class="s i" x="1170" y="375" font-size="26">C<tspan font-size="14" font-style="normal">(<tspan class="i">t</tspan>)</tspan></text>
</g>
</svg>
